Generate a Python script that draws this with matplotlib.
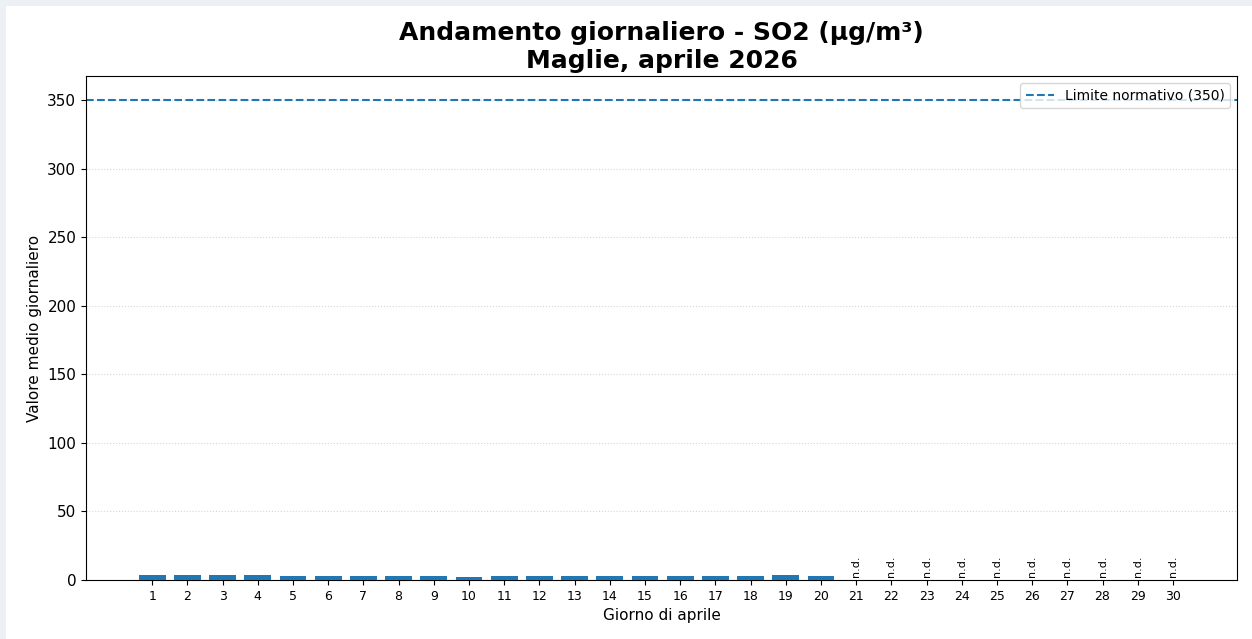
import matplotlib
matplotlib.use("Agg")
import matplotlib.pyplot as plt
from matplotlib.patches import Rectangle
import numpy as np

days = list(range(1, 31))
values = [4, 4, 4, 4, 3, 3, 3, 3, 3, 2, 3, 3, 3, 3, 3, 3, 3, 3, 4, 3] + [None] * 10
limit = 350
title = "Andamento giornaliero - SO2 (µg/m³)\nMaglie, aprile 2026"
xlabel = "Giorno di aprile"
ylabel = "Valore medio giornaliero"
legend_label = "Limite normativo (350)"

W, H = 1252, 639
fig = plt.figure(figsize=(W / 100, H / 100), dpi=100)
fig.patch.set_facecolor("#edf0f4")
fig.patches.append(Rectangle((6 / W, 0), 1, 1 - 6 / H, transform=fig.transFigure,
                             facecolor="white", edgecolor="none", zorder=-10))
ax = fig.add_axes([86 / W, 1 - 580 / H, (1237 - 86) / W, (580 - 76) / H])

avail_d = [d for d, v in zip(days, values) if v is not None]
avail_v = [v for v in values if v is not None]
ax.bar(avail_d, avail_v, width=0.76, color="#1f77b4", zorder=3)
for d, v in zip(days, values):
    if v is None:
        ax.text(d, 2, "n.d.", rotation=90, ha="center", va="bottom", fontsize=8)

ax.axhline(limit, color="#1f77b4", linestyle="--", linewidth=1.5, label=legend_label)
ax.set_ylim(0, limit * 1.05)
ax.set_xlim(-0.88, 31.82)
ax.set_xticks(days)
ax.tick_params(axis="x", labelsize=9)
ax.tick_params(axis="y", labelsize=11)
ax.yaxis.grid(True, linestyle=":", color="#cccccc", linewidth=0.8, alpha=0.8)
ax.set_axisbelow(True)
ax.set_xlabel(xlabel, fontsize=11)
ax.set_ylabel(ylabel, fontsize=11)
ax.set_title(title, fontsize=18, fontweight="bold", pad=6)
ax.legend(loc="upper right", fontsize=10)

fig.savefig("out.png", dpi=100, facecolor=fig.get_facecolor())
